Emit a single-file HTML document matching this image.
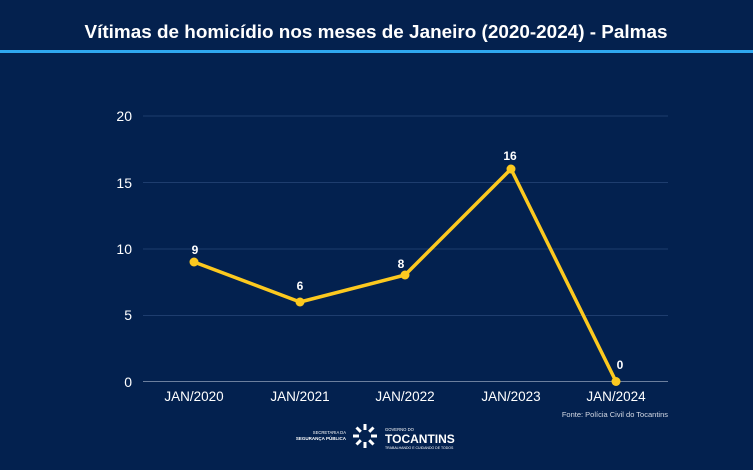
<!DOCTYPE html>
<html><head><meta charset="utf-8"><style>
html,body{margin:0;padding:0;}
body{width:753px;height:465px;background:#03214f;overflow:hidden;font-family:"Liberation Sans",sans-serif;}
</style></head><body>
<svg width="753" height="465" xmlns="http://www.w3.org/2000/svg">
<rect x="0" y="0" width="753" height="465" fill="#03214f"/>
<rect x="0" y="0" width="753" height="50" fill="#04214e"/>
<rect x="0" y="50" width="753" height="3" fill="#2fa8f0"/>
<text x="376" y="38" text-anchor="middle" fill="#fff" font-size="18.5" font-weight="bold" textLength="583" lengthAdjust="spacingAndGlyphs">Vítimas de homicídio nos meses de Janeiro (2020-2024) - Palmas</text>
<g stroke="#1e3d6e" stroke-width="1">
<line x1="143" y1="116" x2="668" y2="116"/>
<line x1="143" y1="182.5" x2="668" y2="182.5"/>
<line x1="143" y1="249" x2="668" y2="249"/>
<line x1="143" y1="315.5" x2="668" y2="315.5"/>
<line x1="143" y1="381.5" x2="668" y2="381.5" stroke="#6c7f9e"/>
</g>
<g fill="#fff" font-size="14" text-anchor="end">
<text x="132" y="121">20</text>
<text x="132" y="188">15</text>
<text x="132" y="254">10</text>
<text x="132" y="320">5</text>
<text x="132" y="387">0</text>
</g>
<g fill="#fff" font-size="13.5" text-anchor="middle">
<text x="194" y="401">JAN/2020</text>
<text x="300" y="401">JAN/2021</text>
<text x="405" y="401">JAN/2022</text>
<text x="511" y="401">JAN/2023</text>
<text x="616" y="401">JAN/2024</text>
</g>
<polyline points="194,262 300,302 405,275 511,169 616,381.5" fill="none" stroke="#fcc91f" stroke-width="3.5" stroke-linejoin="round"/>
<g fill="#fcc91f">
<circle cx="194" cy="262" r="4.5"/><circle cx="300" cy="302" r="4.5"/><circle cx="405" cy="275" r="4.5"/><circle cx="511" cy="169" r="4.5"/><circle cx="616" cy="381.5" r="4.5"/>
</g>
<g fill="#fff" font-size="12" font-weight="bold" text-anchor="middle">
<text x="195" y="254">9</text>
<text x="300" y="290">6</text>
<text x="401" y="268">8</text>
<text x="510" y="160">16</text>
<text x="620" y="369">0</text>
</g>
<text x="668" y="417" text-anchor="end" fill="#d6dbe6" font-size="7.5">Fonte: Polícia Civil do Tocantins</text>
<g fill="#fff">
<text x="346" y="434" text-anchor="end" font-size="4.2">SECRETARIA DA</text>
<text x="346" y="440" text-anchor="end" font-size="4.5" font-weight="bold">SEGURANÇA PÚBLICA</text>
<g transform="translate(365,436)" stroke="#fff" stroke-width="3">
<line x1="0" y1="-12" x2="0" y2="-6"/><line x1="0" y1="6" x2="0" y2="12"/>
<line x1="-12" y1="0" x2="-6" y2="0"/><line x1="6" y1="0" x2="12" y2="0"/>
<line x1="-8.5" y1="-8.5" x2="-4.2" y2="-4.2"/><line x1="4.2" y1="4.2" x2="8.5" y2="8.5"/>
<line x1="-8.5" y1="8.5" x2="-4.2" y2="4.2"/><line x1="4.2" y1="-4.2" x2="8.5" y2="-8.5"/>
</g>
<text x="385" y="431" font-size="4.2">GOVERNO DO</text>
<text x="385" y="443" font-size="12" font-weight="bold">TOCANTINS</text>
<text x="385" y="449" font-size="3.5">TRABALHANDO E CUIDANDO DE TODOS</text>
</g>
</svg>
</body></html>
